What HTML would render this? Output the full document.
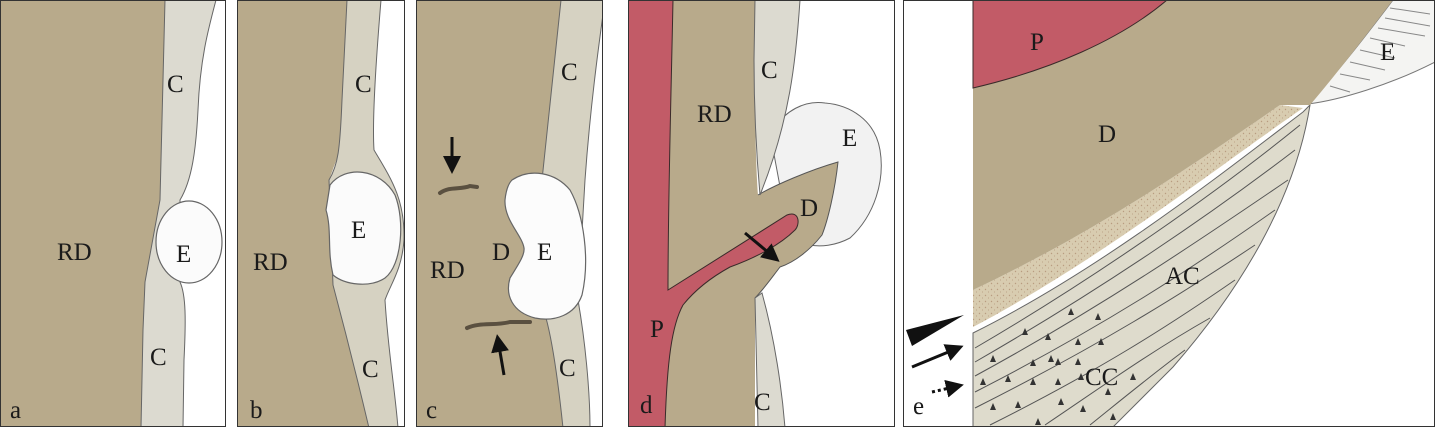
<!DOCTYPE html>
<html><head><meta charset="utf-8"><style>
body{margin:0;background:#fff}
svg{display:block}
text{font-family:"Liberation Serif",serif;font-size:25px;fill:#1a1a1a}
</style></head><body>
<svg width="1435" height="428" viewBox="0 0 1435 428" xmlns="http://www.w3.org/2000/svg">
<defs>
<marker id="ah" markerWidth="6" markerHeight="6" refX="4" refY="3" orient="auto"><path d="M0,0 L6,3 L0,6 Z" fill="#111"/></marker>
<pattern id="dots" width="6" height="6" patternUnits="userSpaceOnUse"><rect width="6" height="6" fill="#d8ccb0"/><circle cx="1.5" cy="1.5" r=".7" fill="#b89c80"/><circle cx="4.5" cy="4" r=".6" fill="#c0a88c"/></pattern>
<clipPath id="ca"><rect x="1" y="1" width="224" height="425"/></clipPath>
<clipPath id="cb"><rect x="238" y="1" width="166" height="425"/></clipPath>
<clipPath id="cc"><rect x="417" y="1" width="185" height="425"/></clipPath>
<clipPath id="cd"><rect x="629" y="1" width="265" height="425"/></clipPath>
<clipPath id="ce"><rect x="904" y="1" width="530" height="425"/></clipPath>
</defs>

<!-- Panel a -->
<g clip-path="url(#ca)">
<rect x="0" y="0" width="226" height="428" fill="#fff"/>
<path d="M0,0 L165,0 L160,200 L145,282 L143,330 L141,428 L0,428 Z" fill="#b8aa8b"/>
<path d="M165,0 L216,0 C208,30 200,60 198,110 C196,150 192,180 180,200 L180,282 C186,295 186,320 184,360 L183,428 L141,428 L143,330 L145,282 L160,200 Z" fill="#dcdad0" stroke="#666" stroke-width="1"/>
<ellipse cx="189" cy="242" rx="33" ry="41" fill="#fbfbfb" stroke="#666" stroke-width="1.2"/>
<text x="167" y="92">C</text><text x="176" y="262">E</text><text x="57" y="260">RD</text><text x="150" y="365">C</text><text x="10" y="418">a</text>
</g>
<rect x="0.5" y="0.5" width="225" height="426" fill="none" stroke="#333"/>

<!-- Panel b -->
<g clip-path="url(#cb)">
<rect x="238" y="0" width="168" height="428" fill="#fff"/>
<path d="M238,0 L347,0 L342,100 L340,150 L329,180 L333,285 C345,330 360,390 369,428 L238,428 Z" fill="#b8aa8b"/>
<path d="M347,0 L381,0 C376,60 372,120 374,150 C392,180 405,200 404,240 C402,270 390,285 385,300 C388,350 395,390 398,428 L369,428 C360,390 345,330 333,285 L329,180 C338,165 340,150 342,100 Z" fill="#d6d2c2" stroke="#666"/>
<path d="M330,185 C345,165 380,168 395,195 C405,220 402,265 385,278 C370,288 345,285 333,275 C327,250 332,230 326,210 Z" fill="#fbfbfb" stroke="#666" stroke-width="1.2"/>
<text x="355" y="92">C</text><text x="351" y="238">E</text><text x="253" y="270">RD</text><text x="362" y="377">C</text><text x="250" y="418">b</text>
</g>
<rect x="237.5" y="0.5" width="167" height="426" fill="none" stroke="#333"/>

<!-- Panel c -->
<g clip-path="url(#cc)">
<rect x="417" y="0" width="186" height="428" fill="#fff"/>
<path d="M417,0 L561,0 L542,180 L546,318 C552,340 558,380 563,428 L417,428 Z" fill="#b8aa8b"/>
<path d="M561,0 L605,0 C598,50 590,110 585,180 L578,300 C585,340 590,390 590,428 L563,428 C558,380 552,340 546,318 L542,180 Z" fill="#d6d2c2" stroke="#666"/>
<path d="M512,180 C530,168 555,172 570,190 C584,215 590,260 582,295 C575,315 555,322 535,318 C512,312 505,295 510,278 C518,265 525,255 524,248 C522,235 504,220 505,200 C506,190 508,184 512,180 Z" fill="#fcfcfc" stroke="#666" stroke-width="1.2"/>
<path d="M440,193 C450,186 460,190 470,186 L477,187" stroke="#5a5040" stroke-width="4" fill="none" stroke-linecap="round"/>
<path d="M467,328 C480,322 495,326 510,322 L530,322" stroke="#5a5040" stroke-width="4" fill="none" stroke-linecap="round"/>
<line x1="452" y1="137" x2="452" y2="168" stroke="#111" stroke-width="3" marker-end="url(#ah)"/>
<line x1="504" y1="375" x2="498" y2="340" stroke="#111" stroke-width="3" marker-end="url(#ah)"/>
<text x="561" y="80">C</text><text x="492" y="260">D</text><text x="537" y="260">E</text><text x="430" y="278">RD</text><text x="559" y="376">C</text><text x="426" y="418">c</text>
</g>
<rect x="416.5" y="0.5" width="186" height="426" fill="none" stroke="#333"/>

<!-- Panel d -->
<g clip-path="url(#cd)">
<rect x="628" y="0" width="268" height="428" fill="#fff"/>
<path d="M770,133 C785,110 805,100 825,103 C850,105 875,120 880,150 C885,180 875,215 850,238 C835,246 820,247 810,245 L790,240 Z" fill="#f2f2f2" stroke="#666"/>
<path d="M640,0 L755,0 L754,60 C755,120 756,170 758,195 C775,185 810,170 838,162 C835,190 828,220 822,235 C810,250 795,262 780,267 C770,280 763,290 755,298 L755,428 L640,428 Z" fill="#b8aa8b"/>
<path d="M758,195 C775,185 810,170 838,162 C835,190 828,220 822,235 C810,250 795,262 780,267 C770,280 763,290 755,298" fill="none" stroke="#555"/>
<path d="M755,0 L800,0 C796,60 790,120 760,195 C756,150 754,100 754,60 Z" fill="#dcdad0" stroke="#666"/>
<path d="M755,298 L762,293 C775,340 782,390 785,428 L758,428 Z" fill="#dcdad0" stroke="#666"/>
<path d="M628,0 L673,0 C671,100 668,200 668,290 L787,215 C800,210 800,225 795,230 C780,245 755,258 730,267 C710,278 695,290 683,305 C672,325 667,360 665,428 L628,428 Z" fill="#c25b67" stroke="#3a2a2a" stroke-width="1"/>
<line x1="745" y1="233" x2="775" y2="258" stroke="#111" stroke-width="3" marker-end="url(#ah)"/>
<text x="761" y="78">C</text><text x="697" y="122">RD</text><text x="842" y="146">E</text><text x="800" y="216">D</text><text x="650" y="337">P</text><text x="754" y="410">C</text><text x="640" y="413">d</text>
</g>
<rect x="628.5" y="0.5" width="266" height="426" fill="none" stroke="#333"/>

<!-- Panel e -->
<g clip-path="url(#ce)">
<rect x="903" y="0" width="532" height="428" fill="#fff"/>
<path d="M1393,0 L1435,0 L1435,62 C1390,85 1340,100 1308,104 C1340,70 1370,30 1393,0Z" fill="#f4f4f2" stroke="#777"/>
<g stroke="#888" stroke-width="1">
<line x1="1390" y1="8" x2="1430" y2="14"/><line x1="1385" y1="18" x2="1430" y2="26"/><line x1="1378" y1="28" x2="1425" y2="36"/><line x1="1370" y1="38" x2="1405" y2="46"/><line x1="1360" y1="50" x2="1395" y2="58"/><line x1="1350" y1="62" x2="1385" y2="70"/><line x1="1340" y1="74" x2="1370" y2="80"/><line x1="1330" y1="86" x2="1350" y2="92"/>
</g>
<path d="M1310,105 C1295,200 1240,290 1173,367 C1150,390 1130,410 1112,428 L973,428 L973,333 C1100,270 1220,175 1303,112Z" fill="#dedbcc" stroke="#666"/>
<path d="M1303,108 C1220,165 1100,260 973,327 L973,290 C1100,230 1200,160 1280,105Z" fill="url(#dots)"/>
<path d="M973,0 L1393,0 C1370,30 1340,70 1310,105 L1280,105 C1200,160 1100,230 973,290 Z" fill="#b8aa8b"/>
<path d="M973,0 L1167,0 C1120,40 1050,70 973,88 Z" fill="#c25b67" stroke="#3a2a2a"/>
<g stroke="#555" stroke-width="1" fill="none">
<path d="M1300,125 C1220,190 1100,275 975,348"/>
<path d="M1295,150 C1210,215 1100,290 975,362"/>
<path d="M1288,180 C1200,240 1100,308 975,376"/>
<path d="M1275,210 C1190,270 1100,328 975,392"/>
<path d="M1255,245 C1180,295 1100,345 975,408"/>
<path d="M1235,280 C1170,325 1100,370 990,425"/>
<path d="M1210,318 C1150,352 1100,388 1045,425"/>
<path d="M1185,350 C1145,380 1115,405 1090,425"/>
</g>
<g fill="#333">
<path d="M1068,315 l3,-7 l3,7z"/><path d="M1045,340 l3,-7 l3,7z"/><path d="M1095,320 l3,-7 l3,7z"/><path d="M1022,335 l3,-7 l3,7z"/><path d="M1048,362 l3,-7 l3,7z"/><path d="M1075,345 l3,-7 l3,7z"/><path d="M1098,345 l3,-7 l3,7z"/><path d="M990,362 l3,-7 l3,7z"/><path d="M1030,366 l3,-7 l3,7z"/><path d="M1055,365 l3,-7 l3,7z"/><path d="M1075,365 l3,-7 l3,7z"/><path d="M980,385 l3,-7 l3,7z"/><path d="M1005,382 l3,-7 l3,7z"/><path d="M1030,385 l3,-7 l3,7z"/><path d="M1055,385 l3,-7 l3,7z"/><path d="M1078,380 l3,-7 l3,7z"/><path d="M1130,380 l3,-7 l3,7z"/><path d="M1058,405 l3,-7 l3,7z"/><path d="M1015,408 l3,-7 l3,7z"/><path d="M990,410 l3,-7 l3,7z"/><path d="M1080,412 l3,-7 l3,7z"/><path d="M1105,395 l3,-7 l3,7z"/><path d="M1035,425 l3,-7 l3,7z"/><path d="M1110,420 l3,-7 l3,7z"/>
</g>
<text x="1030" y="50">P</text><text x="1380" y="60">E</text><text x="1098" y="142">D</text><text x="1165" y="284">AC</text><text x="1085" y="385">CC</text><text x="913" y="414">e</text>
<path d="M906,330 L964,315 L912,346 Z" fill="#111"/>
<line x1="912" y1="367" x2="958" y2="348" stroke="#111" stroke-width="3" marker-end="url(#ah)"/>
<line x1="932" y1="392" x2="958" y2="386" stroke="#111" stroke-width="3" stroke-dasharray="3,3" marker-end="url(#ah)"/>
</g>
<rect x="903.5" y="0.5" width="531" height="426" fill="none" stroke="#333"/>
</svg>
</body></html>
